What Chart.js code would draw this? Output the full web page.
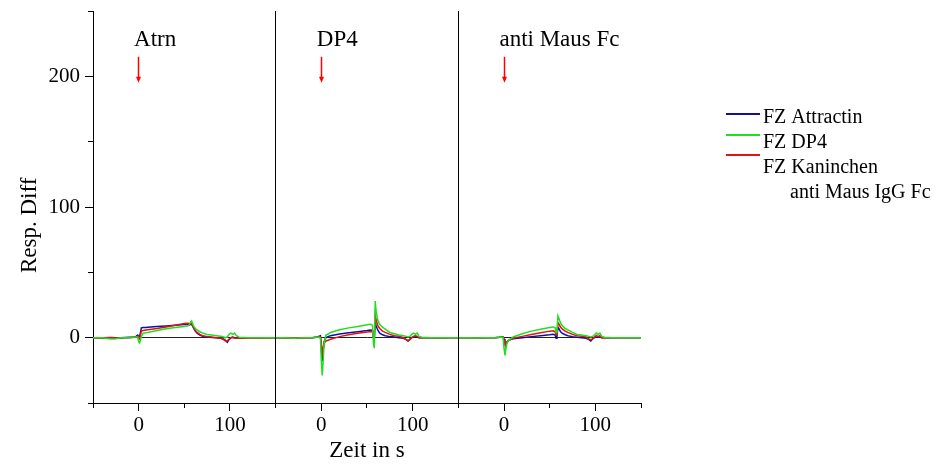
<!DOCTYPE html>
<html><head><meta charset="utf-8">
<script src="https://cdn.jsdelivr.net/npm/chart.js@4.4.1/dist/chart.umd.min.js"></script>
<style>html,body{margin:0;padding:0;background:#fff;overflow:hidden}canvas{display:block}</style>
</head><body>
<canvas id="c" width="935" height="466"></canvas>
<script>
// ---- data ----
const timeS = [-50,-40,-30,-25,-20,-10,-5,-3,-1,0,1,2,3,5,8,10,20,30,40,50,54,56,57,58,59,60,62,64,67,70,75,80,85,90,93,95,97,99,101,103,105,107,110,120,130,140,150];
const panelTitles = ['Atrn','DP4','anti Maus Fc'];
const seriesNames = ['FZ Attractin','FZ DP4','FZ Kaninchen'];
const legendSecondLine = 'anti Maus IgG Fc';
const yTickValues = [-50,0,50,100,150,200,250];
const yTickLabels = [0,100,200];
const xTickValues = [-50,0,50,100,150];
const xTickLabels = [0,100];
const injectionTime = [0,0,0];

// panel 1: Atrn
const atrnAttractin = [0,0,0.2,0,0, 0.3,0.5,1,2,1, 0.5,4,7.5,7.8,7.8, 8,8.5,9,9.5,10, 10.2,9.8,10.5,10,9, 7.5,5,3.5,2,1, 0.5,0.2,0,-0.5,-1, -2,-3.5,-1.5,0,0.5, 0,0,0,0,0, 0,0];
const atrnDP4       = [0,0,-1,-0.8,0, 0,0.3,0.5,0.5,-3, -4,-2,1,3.5,3.8, 4,5.5,6.8,7.8,8.5, 9,10.5,12,12.8,11, 9,7,6,4.5,3.5, 2.5,2,1.5,1,0.5, 0,0.5,2.5,3.5,2.5, 3.5,1.5,0.3,0,0, 0,0];
const atrnKaninchen = [-0.3,-0.3,0,-0.3,-0.3, 0,0.3,0.5,1,0, -1,2,5,5.5,5.8, 6,7,8.2,9.5,10.8, 11,10.5,11.5,10.5,9.5, 8,5.5,4,2.5,1.5, 0.8,0.5,0,-0.5,-1.5, -2.5,-2.5,-1,0,0, -0.3,-0.5,-0.5,-0.5,-0.5, -0.3,-0.3];
// panel 2: DP4
const dp4Attractin = [0,0,0,-0.3,0, 0,0.5,1,1.5,-8, -18,-10,-3,0,1, 1.5,2.8,3.8,4.6,5.4, 5.8,5.6,1,0,12, 9,5.5,3.5,2.2,1.5, 0.8,0.5,0,-0.5,-1.5, -2.5,-1,0,0.5,1, 0.5,0,0,0,0, 0,0];
const dp4DP4       = [0,0,-0.5,-0.3,0, 0,0.3,0.5,0,-18, -29,-18,-5,2,3, 4,6,7.5,8.6,9.8, 10.3,9.5,-4,-8,28, 20,13,10,8,6.5, 4,3,2,1.5,1, 0.5,1,2.5,3.5,2.5, 3.5,1,0.3,0,0, 0,0];
const dp4Kaninchen = [0,-0.3,0,0,-0.3, 0,0.3,0.5,0.5,-4, -12,-8,-4.5,-2.5,-1.8, -1.2,0.8,2.2,3.4,4.4, 4.8,4.6,1,0,17, 13.5,9,7,5,4, 2.5,1.5,1,0,-1.5, -2.5,-1.5,0,1,1.5, 1,0,0,0,-0.3, 0,0];
// panel 3: anti Maus Fc
const fcAttractin = [0,0,0,0,0, 0,0.3,0.5,0.5,-1, -3.5,-4.5,-3.5,-2,-1.2, -0.8,0,0.8,1.5,2.2, 2.6,2,-0.5,1,8, 7,4.5,3.2,2.2,1.5, 0.8,0.3,0,-0.5,-1.5, -2.5,-1,0,0.5,0.5, 0.5,0,0,0,0, 0,0];
const fcDP4       = [0,0,-0.3,0,0, 0,0.3,0.5,0,-8, -13.5,-9,-5,-2,-0.5, 0.5,3,5,6.5,7.8, 8.2,7.5,4,5,16.7, 15,11,9,7,6, 4,2.5,2,1.5,1, 0.5,1,2,3.5,2.5, 3.5,1,0.3,0,0, 0,0];
const fcKaninchen = [0,0,0,-0.3,0, 0,0.3,0.8,0.5,-2, -5,-4.5,-3.5,-2,-1, -0.5,1,2.5,3.8,5, 5.3,4.5,2,3,11.5, 10.5,8,6.5,5,4, 2.5,1.5,1,0.5,-1, -1.5,-1,0.5,1.5,1, 1.5,0,0,0,0, 0,0];

// ---- styling ----
const FONT = "'Liberation Serif', 'Times New Roman', serif";
const seriesColors = ['#10109a', '#22dd22', '#e01414'];
const seriesOrder = [2, 0, 1]; // green on top, then red, then blue
const panels = [
  [atrnAttractin, atrnDP4, atrnKaninchen],
  [dp4Attractin, dp4DP4, dp4Kaninchen],
  [fcAttractin, fcDP4, fcKaninchen]
];

const datasets = [];
panels.forEach((series, p) => {
  series.forEach((vals, s) => {
    datasets.push({
      label: seriesNames[s],
      data: timeS.map((t, i) => ({x: t, y: vals[i]})),
      xAxisID: 'x' + (p + 1),
      yAxisID: 'y',
      borderColor: seriesColors[s],
      borderWidth: 1.5,
      pointRadius: 0,
      fill: false,
      tension: 0,
      order: seriesOrder[s]
    });
  });
});

function xScale(id, withTitle) {
  return {
    type: 'linear', position: 'bottom', stack: 'time', stackWeight: 1,
    min: -50, max: 150,
    afterFit: s => { s.height = 63; s.paddingLeft = 0; s.paddingRight = 0; },
    ticks: {
      stepSize: 50, autoSkip: false, maxRotation: 0, padding: 10,
      color: '#000', font: {family: FONT, size: 21},
      callback: v => xTickLabels.includes(v) ? String(v) : ''
    },
    grid: {display: false, drawTicks: false},
    border: {display: true, color: '#000', width: 1},
    title: withTitle ? {display: true, text: 'Zeit in s', color: '#000',
      font: {family: FONT, size: 23}, padding: {top: 0, bottom: 1}} : {display: false}
  };
}

function alignPx(v) { return Math.round(v - 0.5) + 0.5; }

const decor = {
  id: 'decor',
  afterDraw(chart) {
    const {ctx, chartArea: a, scales} = chart;
    const y = scales.y;
    ctx.save();
    ctx.strokeStyle = '#000';
    ctx.lineWidth = 1;
    const seg = (x0, y0, x1, y1) => { ctx.beginPath(); ctx.moveTo(x0, y0); ctx.lineTo(x1, y1); ctx.stroke(); };
    // panel separators
    ['x2', 'x3'].forEach(id => { const px = alignPx(scales[id].left); seg(px, a.top, px, a.bottom); });
    // y ticks
    yTickValues.forEach(v => {
      const py = alignPx(y.getPixelForValue(v));
      const len = yTickLabels.includes(v) ? 8 : 5;
      seg(a.left - len, py, a.left, py);
    });
    // x ticks
    ['x1', 'x2', 'x3'].forEach(id => {
      const s = scales[id];
      xTickValues.forEach(v => {
        const px = alignPx(s.getPixelForValue(v));
        const len = xTickLabels.includes(v) ? 8 : 5;
        seg(px, a.bottom, px, a.bottom + len);
      });
    });
    // injection arrows and panel labels
    ['x1', 'x2', 'x3'].forEach((id, p) => {
      const s = scales[id];
      const px = alignPx(s.getPixelForValue(injectionTime[p]));
      const yTop = y.getPixelForValue(215), yBot = y.getPixelForValue(195);
      ctx.strokeStyle = '#ff0000'; ctx.fillStyle = '#ff0000'; ctx.lineWidth = 1.5;
      seg(px, yTop, px, yBot - 5);
      ctx.beginPath(); ctx.moveTo(px - 2.5, yBot - 6); ctx.lineTo(px + 2.5, yBot - 6); ctx.lineTo(px, yBot); ctx.closePath(); ctx.fill();
      ctx.fillStyle = '#000';
      ctx.font = '23px ' + FONT;
      ctx.textAlign = 'left'; ctx.textBaseline = 'alphabetic';
      ctx.fillText(panelTitles[p], s.getPixelForValue(injectionTime[p] - 5), y.getPixelForValue(223));
    });
    // y title
    ctx.save();
    ctx.translate(30, y.getPixelForValue(86));
    ctx.rotate(-Math.PI / 2);
    ctx.font = '23px ' + FONT; ctx.fillStyle = '#000';
    ctx.textAlign = 'center'; ctx.textBaseline = 'middle';
    ctx.fillText('Resp. Diff', 0, 0);
    ctx.restore();
    // legend
    const lg = {x0: 726, x1: 760, textX: 763, indentX: 790, lineYs: [114, 135, 155], textYs: [118, 143, 168, 193]};
    ctx.lineWidth = 2;
    seriesColors.forEach((c, i) => { ctx.strokeStyle = c; seg(lg.x0, lg.lineYs[i], lg.x1, lg.lineYs[i]); });
    ctx.fillStyle = '#000';
    ctx.font = '20px ' + FONT; ctx.textAlign = 'left'; ctx.textBaseline = 'middle';
    seriesNames.forEach((n, i) => ctx.fillText(n, lg.textX, lg.textYs[i]));
    ctx.fillText(legendSecondLine, lg.indentX, lg.textYs[3]);
    ctx.restore();
  }
};

new Chart(document.getElementById('c'), {
  type: 'line',
  data: {datasets},
  options: {
    responsive: false, animation: false,
    layout: {padding: {top: 11, right: 294, left: 0, bottom: 0}},
    plugins: {legend: {display: false}, tooltip: {enabled: false}},
    scales: {
      y: {
        type: 'linear', position: 'left', min: -50, max: 250,
        afterFit: s => { s.width = 93; s.paddingTop = 0; s.paddingBottom = 0; },
        ticks: {stepSize: 50, autoSkip: false, padding: 13, color: '#000',
          font: {family: FONT, size: 21},
          callback: v => yTickLabels.includes(v) ? String(v) : ''},
        grid: {drawTicks: false, lineWidth: 1,
          color: c => (c.tick && c.tick.value === 0) ? '#222' : 'rgba(0,0,0,0)'},
        border: {display: true, color: '#000', width: 1}
      },
      x1: xScale('x1', false),
      x2: xScale('x2', true),
      x3: xScale('x3', false)
    }
  },
  plugins: [decor]
});
</script>
</body></html>
